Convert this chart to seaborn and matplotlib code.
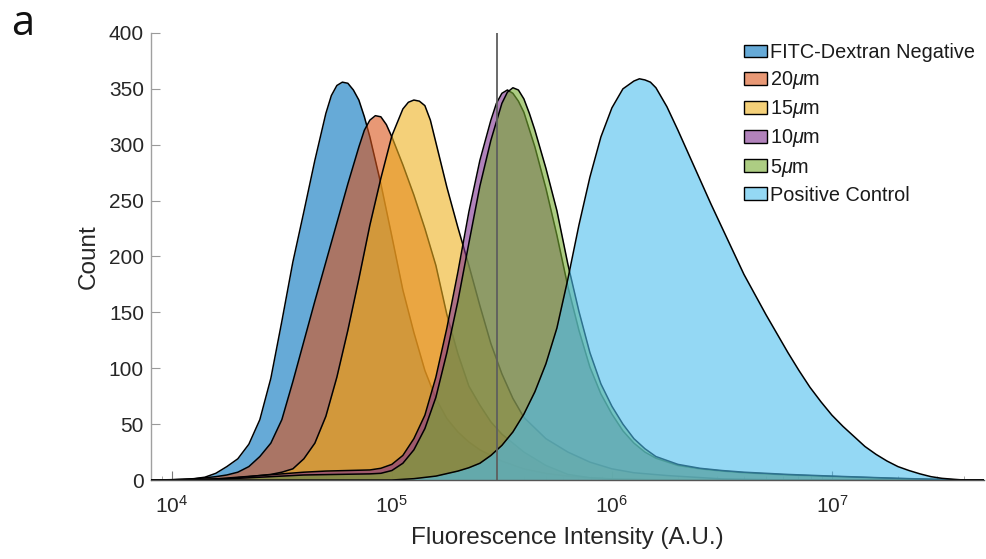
import numpy as np
import pandas as pd
import matplotlib
matplotlib.use("Agg")
import matplotlib.pyplot as plt
from matplotlib.patches import Patch
from matplotlib.ticker import FixedLocator, LogLocator, NullFormatter
import seaborn as sns

# ---------------- data (log10 of fluorescence intensity, counts) ----------------
series_names = ["FITC-Dextran Negative", r"20$\mu$m", r"15$\mu$m", r"10$\mu$m",
                r"5$\mu$m", "Positive Control"]

neg_logx = [3.90, 4.00, 4.05, 4.10, 4.15, 4.20, 4.25, 4.30, 4.35, 4.40, 4.45, 4.50,
            4.55, 4.60, 4.65, 4.70, 4.725, 4.75, 4.775, 4.80, 4.825, 4.85, 4.875,
            4.90, 4.95, 5.00, 5.05, 5.10, 5.15, 5.20, 5.25, 5.30, 5.35, 5.40, 5.50,
            5.60, 5.70, 5.80, 5.90, 6.00, 6.20, 6.50, 7.70]
neg_count = [0, 0.3, 0.6, 1.2, 2.5, 6, 12, 19, 32, 54, 91, 142,
             195, 240, 286, 328, 344, 353, 356, 355, 349, 340, 325,
             307, 265, 218, 170, 132, 98, 73, 55, 43, 34, 27, 17,
             10, 6, 3.5, 2, 1, 0.3, 0, 0]

um20_logx = [3.90, 4.00, 4.10, 4.20, 4.25, 4.30, 4.35, 4.40, 4.45, 4.50, 4.55, 4.60,
             4.65, 4.70, 4.75, 4.80, 4.85, 4.875, 4.90, 4.925, 4.95, 4.975, 5.00,
             5.05, 5.10, 5.15, 5.20, 5.25, 5.30, 5.35, 5.40, 5.45, 5.50, 5.60, 5.70,
             5.80, 5.90, 6.00, 6.20, 7.70]
um20_count = [0, 0.2, 1, 3, 4.5, 7, 12, 21, 33, 54, 88, 124,
              160, 195, 230, 265, 298, 313, 322, 326, 325, 318, 307,
              282, 255, 225, 192, 148, 113, 84, 67, 52, 41, 25, 13,
              5, 2, 0.8, 0, 0]

um15_logx = [3.90, 4.10, 4.25, 4.35, 4.45, 4.50, 4.55, 4.60, 4.65, 4.70, 4.75, 4.80,
             4.85, 4.90, 4.95, 5.00, 5.05, 5.075, 5.10, 5.125, 5.15, 5.175, 5.20,
             5.25, 5.30, 5.35, 5.40, 5.45, 5.50, 5.55, 5.60, 5.70, 5.80, 5.90, 6.00,
             6.10, 6.25, 6.50, 6.80, 7.70]
um15_count = [0, 0.5, 1.2, 3, 5, 7, 10, 19, 33, 57, 92, 134,
              180, 228, 270, 308, 332, 338, 340, 339, 335, 322, 302,
              262, 226, 192, 156, 122, 95, 73, 56, 37, 25, 16, 10,
              6.5, 4, 1, 0, 0]

um10_logx = [3.90, 4.10, 4.20, 4.30, 4.40, 4.50, 4.60, 4.70, 4.80, 4.90, 4.95, 5.00,
             5.05, 5.10, 5.15, 5.20, 5.25, 5.30, 5.35, 5.40, 5.45, 5.475, 5.50, 5.525,
             5.55, 5.575, 5.60, 5.65, 5.70, 5.75, 5.80, 5.85, 5.90, 5.95, 6.00, 6.05,
             6.10, 6.15, 6.20, 6.30, 6.40, 6.50, 6.60, 6.80, 7.00, 7.30, 7.60, 7.70]
um10_count = [0, 0, 1, 2.5, 4, 5.5, 7, 8, 8.5, 9, 10.5, 14,
              22, 37, 58, 92, 136, 186, 240, 286, 322, 337, 346, 349,
              346, 339, 329, 298, 261, 219, 173, 134, 101, 77, 59, 44,
              33, 25, 19.5, 13, 10, 8, 6.5, 4.5, 3.2, 1.3, 0, 0]

um5_logx = [3.90, 4.15, 4.30, 4.45, 4.60, 4.75, 4.90, 4.95, 5.00, 5.05, 5.10, 5.15,
            5.20, 5.25, 5.30, 5.35, 5.40, 5.45, 5.50, 5.525, 5.55, 5.575, 5.60,
            5.625, 5.65, 5.70, 5.75, 5.80, 5.85, 5.90, 5.95, 6.00, 6.05, 6.10, 6.15,
            6.20, 6.30, 6.40, 6.50, 6.60, 6.80, 7.00, 7.30, 7.60, 7.70]
um5_count = [0, 0, 1.5, 3, 4.5, 5, 5.5, 6, 8.5, 15, 27, 46,
             74, 114, 160, 212, 263, 304, 337, 347, 351, 349, 341,
             328, 313, 279, 241, 193, 151, 114, 86, 66, 50, 37, 28,
             21, 14, 10.5, 8.5, 7, 5, 3.5, 1.5, 0, 0]

pos_logx = [3.90, 5.00, 5.10, 5.20, 5.30, 5.35, 5.40, 5.45, 5.50, 5.55, 5.60, 5.65,
            5.70, 5.75, 5.80, 5.85, 5.90, 5.95, 6.00, 6.05, 6.10, 6.125, 6.15, 6.175,
            6.20, 6.25, 6.30, 6.35, 6.40, 6.45, 6.50, 6.55, 6.60, 6.65, 6.70, 6.75,
            6.80, 6.85, 6.90, 6.95, 7.00, 7.05, 7.10, 7.15, 7.20, 7.25, 7.30, 7.35,
            7.40, 7.45, 7.50, 7.55, 7.60, 7.70]
pos_count = [0, 0, 1.2, 3.5, 8, 11, 15, 22, 31, 43, 59, 79,
             104, 136, 180, 228, 271, 307, 333, 350, 357, 359, 358, 356,
             351, 334, 313, 291, 269, 247, 226, 205, 184, 166, 148, 131,
             114, 98, 83, 70, 58, 48, 39, 30, 23, 17, 12, 8.5,
             5.5, 3, 1.5, 0.7, 0, 0]

gate_intensity = 3.0e5
x_tick_values = [1e4, 1e5, 1e6, 1e7]
x_tick_labels = [r"$10^{4}$", r"$10^{5}$", r"$10^{6}$", r"$10^{7}$"]
y_tick_values = [0, 50, 100, 150, 200, 250, 300, 350, 400]

colors = [(0.000, 0.447, 0.741), (0.850, 0.325, 0.098), (0.929, 0.694, 0.125),
          (0.494, 0.184, 0.556), (0.466, 0.674, 0.188), (0.301, 0.745, 0.933)]
face_alpha = 0.6

all_logx = [neg_logx, um20_logx, um15_logx, um10_logx, um5_logx, pos_logx]
all_count = [neg_count, um20_count, um15_count, um10_count, um5_count, pos_count]

frames = []
for name, lx, c in zip(series_names, all_logx, all_count):
    frames.append(pd.DataFrame({"series": name,
                                "intensity": np.power(10.0, np.array(lx)),
                                "count": np.array(c, dtype=float)}))
df = pd.concat(frames, ignore_index=True)

# ---------------- style ----------------
sns.set_theme(style="ticks")
plt.rcParams["font.family"] = ["Liberation Sans", "DejaVu Sans"]
plt.rcParams["mathtext.fontset"] = "custom"
plt.rcParams["mathtext.rm"] = "Liberation Sans"
plt.rcParams["mathtext.it"] = "Liberation Sans:italic"
plt.rcParams["mathtext.bf"] = "Liberation Sans:bold"
plt.rcParams["mathtext.sf"] = "Liberation Sans"

text_col = "#262626"

fig = plt.figure(figsize=(9.86, 5.59), dpi=100)
ax = fig.add_axes([0.153, 0.1413, 0.845, 0.7997])
ax.set_xscale("log")

for i, name in enumerate(series_names):
    sub = df[df["series"] == name]
    z = 2 + 2 * i
    ax.fill_between(sub["intensity"].values, 0, sub["count"].values,
                    facecolor=colors[i], alpha=face_alpha, linewidth=0, zorder=z)
    sns.lineplot(data=sub, x="intensity", y="count", ax=ax, color="black",
                 linewidth=1.1, estimator=None, sort=False, legend=False,
                 zorder=z + 1)

ax.axvline(gate_intensity, color="#5e5e5e", linewidth=1.3, zorder=30)

ax.set_xlim(8.03e3, 4.91e7)
ax.set_ylim(0, 400)

ax.xaxis.set_major_locator(FixedLocator(x_tick_values))
ax.set_xticklabels(x_tick_labels)
ax.xaxis.set_minor_locator(LogLocator(base=10, subs=np.arange(2, 10), numticks=20))
ax.xaxis.set_minor_formatter(NullFormatter())
ax.set_yticks(y_tick_values)
ax.set_yticklabels([str(v) for v in y_tick_values])

ax.tick_params(axis="y", which="major", direction="in", length=6.5, width=0.8,
               color="#9a9a9a", labelsize=15, labelcolor=text_col, pad=5)
ax.tick_params(axis="x", which="major", direction="in", length=6.5, width=0.8,
               color="#7a7a7a", labelsize=15, labelcolor=text_col, pad=11)
ax.tick_params(axis="x", which="minor", direction="in", length=3, width=0.6,
               color="#9a9a9a")

for s in ["top", "right"]:
    ax.spines[s].set_visible(False)
ax.spines["left"].set_color("#a0a0a0")
ax.spines["left"].set_linewidth(1.0)
ax.spines["bottom"].set_color("#555555")
ax.spines["bottom"].set_linewidth(1.0)
ax.spines["bottom"].set_zorder(40)

ax.set_xlabel("Fluorescence Intensity (A.U.)", fontsize=17.5, color=text_col)
ax.set_ylabel("Count", fontsize=17.5, color=text_col)
ax.xaxis.set_label_coords(0.5, -0.105)
ax.yaxis.set_label_coords(-0.061, 0.5)

handles = [Patch(facecolor=(*c, face_alpha), edgecolor="black", linewidth=1.0)
           for c in colors]
leg = fig.legend(handles, series_names, loc="upper left",
                 bbox_to_anchor=(744 / 986, 1 - 43 / 559), frameon=False,
                 fontsize=14.3, handlelength=1.15, handleheight=0.62,
                 handletextpad=0.15, labelspacing=0.36, borderpad=0,
                 borderaxespad=0)
for t in leg.get_texts():
    t.set_color("#1a1a1a")

fig.text(11 / 986, 1 - 35 / 559, "a", fontsize=30, family=["Open Sans", "DejaVu Sans"],
         color="#111111", ha="left", va="baseline")

fig.savefig("out.png", dpi=100)
